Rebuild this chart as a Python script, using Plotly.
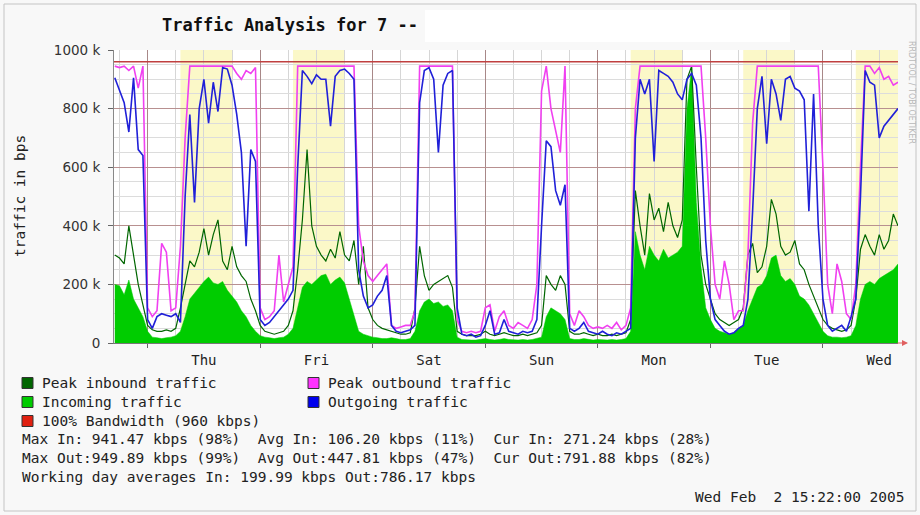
import pandas as pd
import plotly.graph_objects as go

W, H = 920, 515
L, R, T, B = 114, 22, 50, 172
MONO = "DejaVu Sans Mono"

# hourly samples, kbps, starting Wed 26 Jan 2005 17:00
HOURS = pd.date_range("2005-01-26 17:00", periods=168, freq="h")

INCOMING = [
    200, 195, 165, 215, 150, 120, 90,
    # Thu
    40, 20, 18, 15, 18, 20, 25, 40, 90, 150, 170, 190, 210, 225, 205, 200, 210, 180, 160, 140, 110, 90, 60, 40,
    # Fri
    25, 20, 18, 15, 18, 20, 30, 50, 120, 190, 210, 200, 215, 230, 235, 200, 215, 225, 205, 150, 100, 40, 30, 25,
    # Sat
    20, 18, 15, 15, 18, 15, 12, 12, 15, 40, 110, 140, 150, 135, 140, 125, 130, 110, 20, 12, 10, 10, 10, 12,
    # Sun
    15, 12, 10, 12, 15, 12, 10, 10, 12, 10, 12, 15, 20, 90, 120, 110, 100, 80, 15, 12, 12, 15, 12, 10,
    # Mon
    12, 10, 10, 12, 10, 12, 15, 40, 380, 300, 250, 330, 300, 280, 320, 290, 300, 310, 330, 800, 940, 480, 260, 120,
    # Tue
    80, 50, 40, 35, 30, 35, 50, 60, 110, 150, 190, 200, 230, 290, 300, 230, 210, 220, 200, 160, 150, 130, 100, 70,
    # Wed
    40, 25, 20, 20, 18, 20, 25, 60, 150, 200, 210, 200, 220, 230, 240, 250, 270,
]

PEAK_IN = [
    300, 290, 270, 400, 300, 200, 130,
    60, 45, 40, 40, 45, 40, 50, 120, 200, 280, 260, 310, 390, 300, 370, 420, 280, 250, 330, 260, 230, 210, 150, 110,
    60, 40, 35, 30, 35, 40, 60, 110, 250, 420, 660, 400, 330, 300, 280, 320, 290, 380, 300, 280, 350, 200, 330, 120,
    80, 60, 50, 45, 40, 35, 30, 30, 35, 120, 330, 230, 180, 200, 210, 220, 230, 190, 40, 30, 25, 25, 25, 30,
    40, 30, 25, 30, 35, 30, 25, 25, 30, 25, 30, 35, 60, 230, 200, 180, 230, 200, 40, 30, 30, 35, 30, 25,
    30, 25, 25, 30, 25, 30, 35, 80, 520, 400, 300, 510, 420, 460, 380, 480, 400, 360, 420, 900, 945, 600, 300, 200,
    150, 100, 80, 70, 60, 70, 80, 120, 300, 340, 240, 260, 330, 490, 440, 330, 300, 310, 350, 270, 250, 200, 160, 120,
    80, 60, 50, 45, 40, 45, 60, 150, 320, 370, 330, 300, 370, 320, 350, 440, 400,
]

OUTGOING = [
    905, 860, 820, 720, 905, 660, 640,
    80, 50, 90, 100, 95, 90, 100, 70, 500, 780, 480, 800, 900, 750, 890, 790, 940, 935, 880, 780, 650, 330, 660, 620,
    80, 60, 70, 90, 110, 130, 150, 180, 600, 930, 910, 885, 915, 900, 900, 740, 910, 930, 935, 920, 900, 250, 160, 120,
    130, 160, 180, 230, 60, 40, 35, 40, 45, 60, 820, 930, 940, 900, 650, 880, 920, 930, 120, 30, 25, 30, 20, 25,
    60, 110, 30, 35, 80, 40, 35, 30, 40, 35, 40, 80, 400, 690, 670, 520, 470, 540, 50, 40, 50, 70, 40, 35,
    30, 40, 30, 25, 35, 30, 40, 50, 700, 900, 850, 900, 620, 930, 920, 910, 890, 850, 830, 900, 920, 880, 700, 350,
    150, 80, 60, 40, 30, 35, 50, 60, 150, 450, 800, 910, 680, 900, 850, 760, 900, 910, 870, 860, 830, 450, 850, 400,
    150, 60, 40, 50, 60, 40, 90, 150, 500, 930, 890, 880, 700, 740, 760, 780, 800,
]

PEAK_OUT = [
    945, 940, 945, 930, 945, 870, 945,
    120, 90, 110, 340, 310, 110, 120, 330, 700, 945, 945, 945, 945, 945, 945, 945, 945, 945, 945, 920, 900, 930, 920, 940,
    120, 80, 90, 110, 300, 140, 200, 260, 945, 945, 945, 945, 945, 945, 945, 945, 945, 945, 945, 945, 945, 400, 280, 230,
    210, 230, 250, 270, 60, 50, 55, 60, 60, 110, 945, 945, 945, 945, 945, 945, 945, 945, 80, 40, 35, 40, 35, 40,
    120, 130, 40, 90, 110, 60, 50, 70, 60, 50, 80, 200, 860, 945, 800, 720, 650, 945, 100, 60, 110, 90, 60, 50,
    55, 50, 60, 50, 70, 45, 60, 120, 800, 945, 945, 945, 945, 945, 945, 945, 945, 945, 945, 945, 945, 945, 945, 700,
    400, 200, 150, 280, 200, 80, 110, 110, 300, 750, 945, 945, 945, 945, 945, 945, 945, 945, 945, 945, 945, 945, 945, 945,
    600, 200, 100, 270, 210, 100, 80, 200, 600, 945, 945, 920, 940, 900, 910, 880, 890,
]

BANDWIDTH = 960

WORKDAYS = ["2005-01-27", "2005-01-28", "2005-01-31", "2005-02-01", "2005-02-02"]
WORK_START, WORK_END = 7, 18

Y_TICKS = [0, 200, 400, 600, 800, 1000]
Y_TICK_TEXT = ["0", "200 k", "400 k", "600 k", "800 k", "1000 k"]

LEGEND_NAMES = ["Peak inbound traffic", "Incoming traffic", "100% Bandwidth (960 kbps)",
                "Peak outbound traffic", "Outgoing traffic"]
LEGEND_COLORS = ["#006600", "#00cc00", "#e02010", "#ff33ff", "#0000ee"]

STATS_LINES = [
    "Max In: 941.47 kbps (98%)  Avg In: 106.20 kbps (11%)  Cur In: 271.24 kbps (28%)",
    "Max Out:949.89 kbps (99%)  Avg Out:447.81 kbps (47%)  Cur Out:791.88 kbps (82%)",
    "Working day averages In: 199.99 kbps Out:786.17 kbps",
]
STAMP = "Wed Feb  2 15:22:00 2005"


def px(x):
    return (x - L) / (W - L - R)


def py(y):
    return (H - B - y) / (H - T - B)


def keep_spaces(s):
    return s.replace(" ", "&nbsp;")


fig = go.Figure()
fig.add_scatter(x=HOURS, y=INCOMING, mode="lines", fill="tozeroy", fillcolor="#00cc00",
                line=dict(color="#00cc00", width=0.5), name="Incoming traffic")
fig.add_scatter(x=HOURS, y=PEAK_IN, mode="lines",
                line=dict(color="#006600", width=1.2), name="Peak inbound traffic")
fig.add_scatter(x=HOURS, y=PEAK_OUT, mode="lines",
                line=dict(color="#f040f0", width=1.6), name="Peak outbound traffic")
fig.add_scatter(x=HOURS, y=OUTGOING, mode="lines",
                line=dict(color="#2020d8", width=1.6), name="Outgoing traffic")
fig.add_hline(y=BANDWIDTH, line=dict(color="#c04040", width=1.6))

# working hours shading
for d in WORKDAYS:
    day = pd.Timestamp(d)
    fig.add_shape(type="rect", xref="x", yref="paper",
                  x0=day + pd.Timedelta(hours=WORK_START), x1=day + pd.Timedelta(hours=WORK_END),
                  y0=0, y1=1, fillcolor="#fbf8c8", line_width=0, layer="below")

# outer frame and blanked-out title area
fig.add_shape(type="rect", xref="paper", yref="paper", x0=px(4), x1=px(916), y0=py(511), y1=py(4),
              line=dict(color="#c4c4c4", width=1), fillcolor="rgba(0,0,0,0)", layer="below")
fig.add_shape(type="rect", xref="paper", yref="paper", x0=px(425), x1=px(790), y0=py(42), y1=py(10),
              line_width=0, fillcolor="white", layer="below")

ann = []
ann.append(dict(x=px(160), y=py(25), text="<b>Traffic Analysis for 7 --</b>", xanchor="left",
                font=dict(family=MONO, size=17, color="#111")))
ann.append(dict(x=px(20), y=py(196), text="traffic in bps", textangle=-90, xanchor="center",
                font=dict(family=MONO, size=14.5, color="#222")))
ann.append(dict(x=px(912), y=py(92), text="RRDTOOL / TOBI OETIKER", textangle=90, xanchor="center",
                font=dict(family="DejaVu Sans", size=8, color="#b8b8b8")))

# custom legend
rows = [383, 402, 421]
for i, (name, col) in enumerate(zip(LEGEND_NAMES, LEGEND_COLORS)):
    bx = 22 if i < 3 else 308
    ry = rows[i] if i < 3 else rows[i - 3]
    fig.add_shape(type="rect", xref="paper", yref="paper", x0=px(bx), x1=px(bx + 11),
                  y0=py(ry + 5.5), y1=py(ry - 5.5), fillcolor=col, line=dict(color="#333", width=1))
    ann.append(dict(x=px(bx + 18), y=py(ry), text=keep_spaces(name), xanchor="left",
                    font=dict(family=MONO, size=14.5, color="#222")))

for line, ry in zip(STATS_LINES, [439, 458, 477]):
    ann.append(dict(x=px(20), y=py(ry), text=keep_spaces(line), xanchor="left",
                    font=dict(family=MONO, size=14.5, color="#222")))
ann.append(dict(x=px(907), y=py(497), text=keep_spaces(STAMP), xanchor="right",
                font=dict(family=MONO, size=14.5, color="#222")))
for a in ann:
    a.update(xref="paper", yref="paper", yanchor="middle", showarrow=False)
fig.update_layout(annotations=ann)

# arrow at the end of the time axis
fig.add_annotation(x=px(908), y=py(343), xref="paper", yref="paper", text="", showarrow=True,
                   ax=-12, ay=0, arrowhead=2, arrowsize=1, arrowwidth=1.2, arrowcolor="#e06060")

fig.update_xaxes(type="date", range=["2005-01-26 16:50", "2005-02-02 16:00"],
                 dtick=86400000, tick0="2005-01-27", tickformat="%a", ticklabelmode="period",
                 ticks="outside", ticklen=4, tickcolor="#666",
                 tickfont=dict(family=MONO, size=14, color="#222"),
                 showgrid=True, gridcolor="#a88888", gridwidth=1,
                 minor=dict(dtick=6 * 3600 * 1000, showgrid=True, gridcolor="#d6d6d6"),
                 showline=True, linecolor="#777", zeroline=False)
fig.update_yaxes(range=[0, 1000], tickvals=Y_TICKS, ticktext=Y_TICK_TEXT,
                 ticks="outside", ticklen=5, tickcolor="#666", ticklabelstandoff=5,
                 tickfont=dict(family="DejaVu Sans", size=13.5, color="#333"),
                 showgrid=True, gridcolor="#b89090", gridwidth=1,
                 minor=dict(dtick=50, tick0=0, showgrid=True, gridcolor="#dcdcdc"),
                 showline=True, linecolor="#888", zeroline=False)

fig.update_layout(width=W, height=H, margin=dict(l=L, r=R, t=T, b=B),
                  paper_bgcolor="#f8f8f8", plot_bgcolor="white", showlegend=False)

# the page body has a default 8px margin; drop it so the figure sits at the window origin
fig.write_html("out.html", config={"displayModeBar": False},
               post_script="document.body.style.margin='0';")
